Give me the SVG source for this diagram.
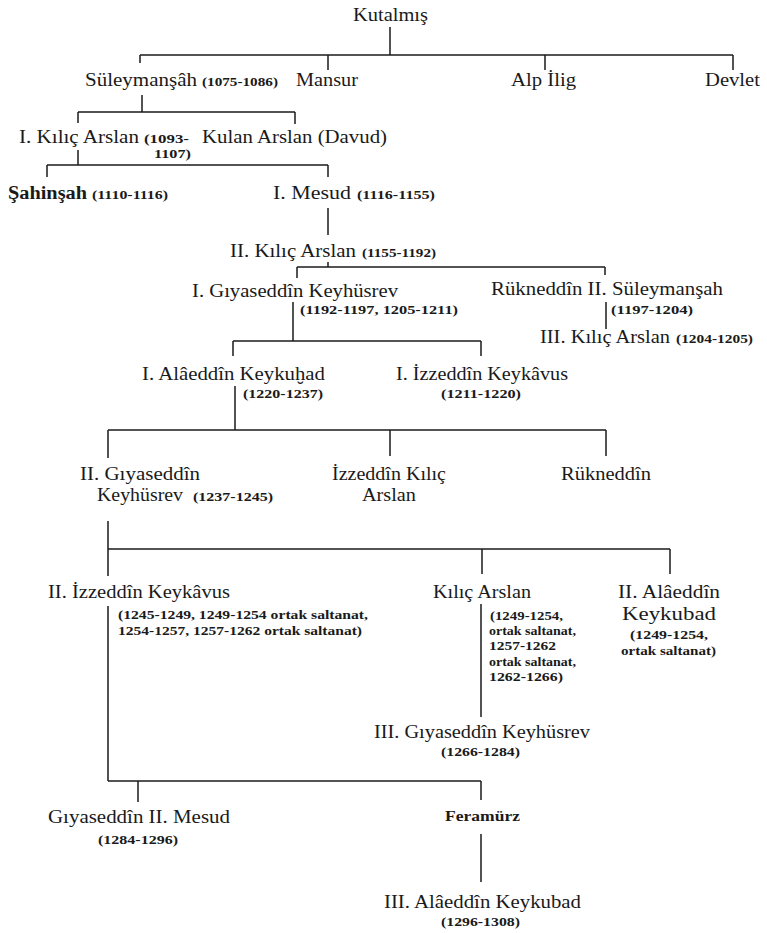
<svg xmlns="http://www.w3.org/2000/svg" width="767" height="933" viewBox="0 0 767 933">
<style>
text{font-family:"Liberation Serif","Times New Roman",serif;fill:#1a1a1a}
.n{font-size:18px}
.b{font-weight:bold}
.d{font-size:12px;font-weight:bold}
.f{font-size:14px;font-weight:bold}
#connectors line{stroke:#1a1a1a;stroke-width:1.5;fill:none}
</style>
<rect width="767" height="933" fill="#ffffff"/>
<g id="connectors">
<line x1="390" y1="27" x2="390" y2="55"/>
<line x1="140" y1="55" x2="733" y2="55"/>
<line x1="140" y1="55" x2="140" y2="63"/>
<line x1="328" y1="55" x2="328" y2="70"/>
<line x1="545" y1="55" x2="545" y2="70"/>
<line x1="733" y1="55" x2="733" y2="70"/>
<line x1="142" y1="95" x2="142" y2="112"/>
<line x1="78" y1="112" x2="295" y2="112"/>
<line x1="78" y1="112" x2="78" y2="123"/>
<line x1="295" y1="112" x2="295" y2="124"/>
<line x1="78" y1="150" x2="78" y2="165"/>
<line x1="47" y1="165" x2="328" y2="165"/>
<line x1="47" y1="165" x2="47" y2="177"/>
<line x1="328" y1="165" x2="328" y2="177"/>
<line x1="328" y1="208" x2="328" y2="235"/>
<line x1="328" y1="262" x2="328" y2="267"/>
<line x1="297" y1="267" x2="605" y2="267"/>
<line x1="297" y1="267" x2="297" y2="278"/>
<line x1="605" y1="267" x2="605" y2="275"/>
<line x1="293" y1="302" x2="293" y2="341"/>
<line x1="233" y1="341" x2="481" y2="341"/>
<line x1="233" y1="341" x2="233" y2="356"/>
<line x1="481" y1="341" x2="481" y2="356"/>
<line x1="606" y1="302" x2="606" y2="329"/>
<line x1="235" y1="386" x2="235" y2="430"/>
<line x1="108" y1="430" x2="606" y2="430"/>
<line x1="108" y1="430" x2="108" y2="458"/>
<line x1="390" y1="430" x2="390" y2="456"/>
<line x1="606" y1="430" x2="606" y2="456"/>
<line x1="108" y1="521" x2="108" y2="576"/>
<line x1="108" y1="549" x2="670" y2="549"/>
<line x1="482" y1="549" x2="482" y2="574"/>
<line x1="670" y1="549" x2="670" y2="574"/>
<line x1="108" y1="606" x2="108" y2="781"/>
<line x1="108" y1="781" x2="481" y2="781"/>
<line x1="138" y1="781" x2="138" y2="802"/>
<line x1="481" y1="781" x2="481" y2="800"/>
<line x1="481" y1="604" x2="481" y2="717"/>
<line x1="481" y1="834" x2="481" y2="882"/>
</g>
<g id="kutalmis"><text class="n" x="353" y="21" textLength="75" lengthAdjust="spacingAndGlyphs">Kutalmış</text></g>
<g id="suleymansah1"><text class="n" x="85" y="86" textLength="112" lengthAdjust="spacingAndGlyphs">Süleymanşâh</text><text class="d" x="202" y="86" textLength="76" lengthAdjust="spacingAndGlyphs">(1075-1086)</text></g>
<g id="mansur"><text class="n" x="296" y="86" textLength="62" lengthAdjust="spacingAndGlyphs">Mansur</text></g>
<g id="alpilig"><text class="n" x="511" y="86" textLength="65" lengthAdjust="spacingAndGlyphs">Alp İlig</text></g>
<g id="devlet"><text class="n" x="705" y="86" textLength="55" lengthAdjust="spacingAndGlyphs">Devlet</text></g>
<g id="kilicarslan1"><text class="n" x="19" y="143" textLength="120" lengthAdjust="spacingAndGlyphs">I. Kılıç Arslan</text><text class="d" x="144" y="143" textLength="45" lengthAdjust="spacingAndGlyphs">(1093-</text><text class="d" x="154" y="158" textLength="37" lengthAdjust="spacingAndGlyphs">1107)</text></g>
<g id="kulanarslan"><text class="n" x="202" y="143" textLength="185" lengthAdjust="spacingAndGlyphs">Kulan Arslan (Davud)</text></g>
<g id="sahinsah"><text class="n b" x="8" y="199" textLength="79" lengthAdjust="spacingAndGlyphs">Şahinşah</text><text class="d" x="92" y="199" textLength="76" lengthAdjust="spacingAndGlyphs">(1110-1116)</text></g>
<g id="mesud1"><text class="n" x="273" y="199" textLength="78" lengthAdjust="spacingAndGlyphs">I. Mesud</text><text class="d" x="357" y="199" textLength="78" lengthAdjust="spacingAndGlyphs">(1116-1155)</text></g>
<g id="kilicarslan2"><text class="n" x="230" y="257" textLength="126" lengthAdjust="spacingAndGlyphs">II. Kılıç Arslan</text><text class="d" x="362" y="257" textLength="74" lengthAdjust="spacingAndGlyphs">(1155-1192)</text></g>
<g id="keyhusrev1"><text class="n" x="192" y="297" textLength="206" lengthAdjust="spacingAndGlyphs">I. Gıyaseddîn Keyhüsrev</text><text class="d" x="300" y="314" textLength="158" lengthAdjust="spacingAndGlyphs">(1192-1197, 1205-1211)</text></g>
<g id="suleymansah2"><text class="n" x="491" y="295" textLength="232" lengthAdjust="spacingAndGlyphs">Rükneddîn II. Süleymanşah</text><text class="d" x="611" y="314" textLength="82" lengthAdjust="spacingAndGlyphs">(1197-1204)</text></g>
<g id="kilicarslan3"><text class="n" x="540" y="343" textLength="130" lengthAdjust="spacingAndGlyphs">III. Kılıç Arslan</text><text class="d" x="676" y="343" textLength="77" lengthAdjust="spacingAndGlyphs">(1204-1205)</text></g>
<g id="keykubad1"><text class="n" x="142" y="380" textLength="183" lengthAdjust="spacingAndGlyphs">I. Alâeddîn Keykuḫad</text><text class="d" x="243" y="398" textLength="80" lengthAdjust="spacingAndGlyphs">(1220-1237)</text></g>
<g id="keykavus1"><text class="n" x="396" y="380" textLength="172" lengthAdjust="spacingAndGlyphs">I. İzzeddîn Keykâvus</text><text class="d" x="441" y="398" textLength="80" lengthAdjust="spacingAndGlyphs">(1211-1220)</text></g>
<g id="keyhusrev2"><text class="n" x="80" y="480" textLength="120" lengthAdjust="spacingAndGlyphs">II. Gıyaseddîn</text><text class="n" x="97" y="501" textLength="86" lengthAdjust="spacingAndGlyphs">Keyhüsrev</text><text class="d" x="193" y="501" textLength="80" lengthAdjust="spacingAndGlyphs">(1237-1245)</text></g>
<g id="izzeddinkilicarslan"><text class="n" x="332" y="480" textLength="114" lengthAdjust="spacingAndGlyphs">İzzeddîn Kılıç</text><text class="n" x="362" y="501" textLength="54" lengthAdjust="spacingAndGlyphs">Arslan</text></g>
<g id="rukneddin"><text class="n" x="561" y="480" textLength="90" lengthAdjust="spacingAndGlyphs">Rükneddîn</text></g>
<g id="keykavus2"><text class="n" x="48" y="598" textLength="182" lengthAdjust="spacingAndGlyphs">II. İzzeddîn Keykâvus</text><text class="d" x="118" y="619" textLength="250" lengthAdjust="spacingAndGlyphs">(1245-1249, 1249-1254 ortak saltanat,</text><text class="d" x="118" y="635" textLength="244" lengthAdjust="spacingAndGlyphs">1254-1257, 1257-1262 ortak saltanat)</text></g>
<g id="kilicarslan4"><text class="n" x="433" y="598" textLength="98" lengthAdjust="spacingAndGlyphs">Kılıç Arslan</text><text class="d" x="490" y="620" textLength="73" lengthAdjust="spacingAndGlyphs">(1249-1254,</text><text class="d" x="489" y="635" textLength="87" lengthAdjust="spacingAndGlyphs">ortak saltanat,</text><text class="d" x="489" y="650" textLength="67" lengthAdjust="spacingAndGlyphs">1257-1262</text><text class="d" x="489" y="666" textLength="87" lengthAdjust="spacingAndGlyphs">ortak saltanat,</text><text class="d" x="489" y="681" textLength="74" lengthAdjust="spacingAndGlyphs">1262-1266)</text></g>
<g id="keykubad2"><text class="n" x="618" y="598" textLength="102" lengthAdjust="spacingAndGlyphs">II. Alâeddîn</text><text class="n" x="622" y="620" textLength="94" lengthAdjust="spacingAndGlyphs">Keykubad</text><text class="d" x="630" y="639" textLength="78" lengthAdjust="spacingAndGlyphs">(1249-1254,</text><text class="d" x="621" y="655" textLength="95" lengthAdjust="spacingAndGlyphs">ortak saltanat)</text></g>
<g id="keyhusrev3"><text class="n" x="374" y="738" textLength="216" lengthAdjust="spacingAndGlyphs">III. Gıyaseddîn Keyhüsrev</text><text class="d" x="441" y="756" textLength="79" lengthAdjust="spacingAndGlyphs">(1266-1284)</text></g>
<g id="mesud2"><text class="n" x="48" y="823" textLength="182" lengthAdjust="spacingAndGlyphs">Gıyaseddîn II. Mesud</text><text class="d" x="98" y="844" textLength="80" lengthAdjust="spacingAndGlyphs">(1284-1296)</text></g>
<g id="feramurz"><text class="f" x="445" y="821" textLength="75" lengthAdjust="spacingAndGlyphs">Feramürz</text></g>
<g id="keykubad3"><text class="n" x="384" y="908" textLength="197" lengthAdjust="spacingAndGlyphs">III. Alâeddîn Keykubad</text><text class="d" x="441" y="926" textLength="79" lengthAdjust="spacingAndGlyphs">(1296-1308)</text></g>
</svg>
